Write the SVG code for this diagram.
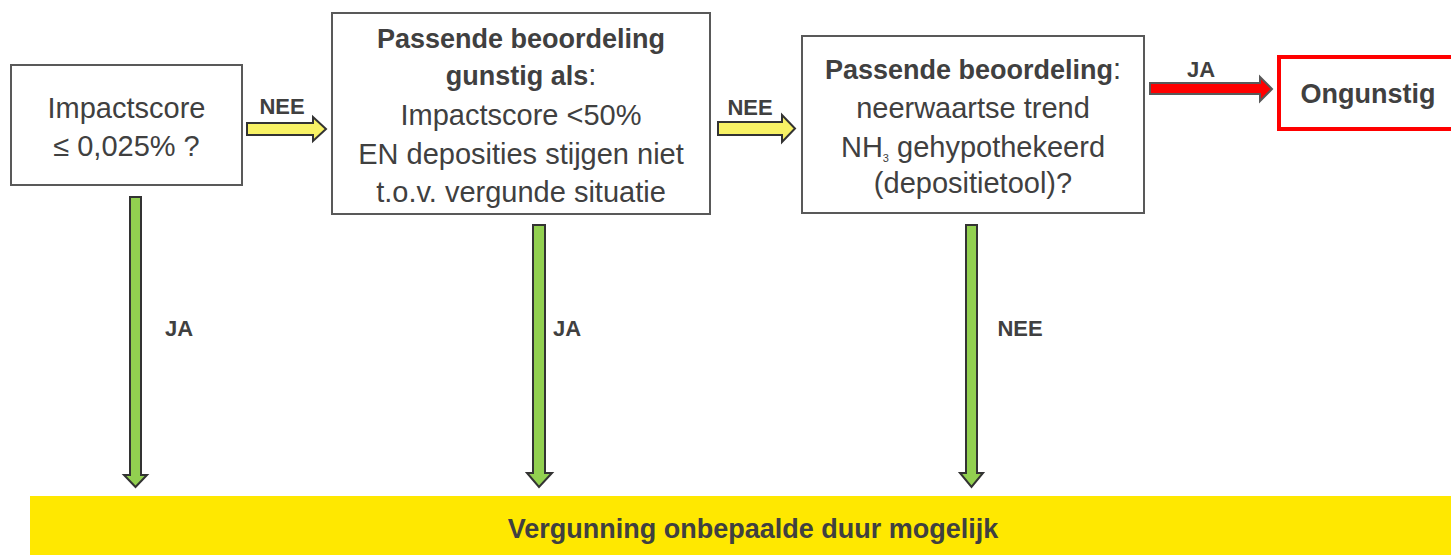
<svg xmlns="http://www.w3.org/2000/svg" width="1451" height="555" viewBox="0 0 1451 555">
<style>
.box{fill:#fff;stroke:#595959;stroke-width:2}
.t{font-family:"Liberation Sans",Arial,sans-serif;font-size:29px;fill:#404040;text-anchor:middle}
.b{font-weight:bold;font-size:27px}
.lbl{font-family:"Liberation Sans",Arial,sans-serif;font-size:22px;font-weight:bold;fill:#404040;text-anchor:middle}
.ya{fill:#F8F265;stroke:#333;stroke-width:2;stroke-linejoin:miter}
.ga{fill:#92D050;stroke:#333;stroke-width:2}
.ra{fill:#FF0000;stroke:#595959;stroke-width:2}
</style>
<rect width="1451" height="555" fill="#fff"/>
<g id="node-impact">
<rect class="box" x="11" y="65" width="231" height="120"/>
<text class="t" x="126.5" y="118">Impactscore</text>
<text class="t" x="126.5" y="156">≤ 0,025% ?</text>
</g>
<g id="node-passende1">
<rect class="box" x="332" y="13" width="378" height="201"/>
<text class="t b" x="521" y="48">Passende beoordeling</text>
<text class="t" x="521" y="85"><tspan class="b">gunstig als</tspan>:</text>
<text class="t" x="521" y="125">Impactscore &lt;50%</text>
<text class="t" x="521" y="164">EN deposities stijgen niet</text>
<text class="t" x="521" y="202">t.o.v. vergunde situatie</text>
</g>
<g id="node-passende2">
<rect class="box" x="802" y="36" width="342" height="177"/>
<text class="t" x="973" y="79"><tspan class="b">Passende beoordeling</tspan>:</text>
<text class="t" x="973" y="118">neerwaartse trend</text>
<text class="t" x="973" y="157">NH<tspan font-size="11" dy="5">3</tspan><tspan dy="-5"> gehypothekeerd</tspan></text>
<text class="t" x="973" y="193">(depositietool)?</text>
</g>
<g id="node-ongunstig">
<rect x="1279" y="57" width="180" height="72" fill="#fff" stroke="#FF0000" stroke-width="4"/>
<text class="t b" x="1368" y="103">Ongunstig</text>
</g>
<g id="node-vergunning">
<rect x="30" y="496" width="1421" height="59" fill="#FFE800"/>
<text class="t b" x="753" y="538">Vergunning onbepaalde duur mogelijk</text>
</g>
<g id="connectors">
<polygon class="ya" points="247,123 313,123 313,117 326,129 313,141 313,135 247,135"/>
<text class="lbl" x="282" y="114">NEE</text>
<polygon class="ya" points="718,122 782,122 782,115 795,128.5 782,142 782,135 718,135"/>
<text class="lbl" x="750" y="115">NEE</text>
<polygon class="ra" points="1150,83 1260,83 1260,77 1272,89 1260,101 1260,94 1150,94"/>
<text class="lbl" x="1201" y="77">JA</text>
<polygon class="ga" points="130,197 141,197 141,475 147,475 135.5,487 124,475 130,475"/>
<text class="lbl" x="179" y="336">JA</text>
<polygon class="ga" points="533,225 545,225 545,473 552,473 539,487 527,473 533,473"/>
<text class="lbl" x="567" y="336">JA</text>
<polygon class="ga" points="966,225 977,225 977,473 983,473 971.5,487 960,473 966,473"/>
<text class="lbl" x="1020" y="336">NEE</text>
</g>
</svg>
